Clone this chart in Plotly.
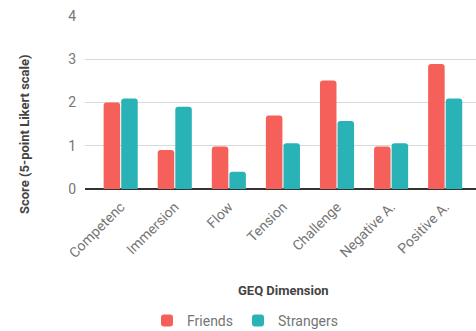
import plotly.graph_objects as go

categories = ["Competenc", "Immersion", "Flow", "Tension", "Challenge", "Negative A.", "Positive A."]
friends = [2.0, 0.9, 0.98, 1.7, 2.51, 0.98, 2.89]
strangers = [2.09, 1.9, 0.4, 1.06, 1.57, 1.06, 2.09]
y_ticks = [0, 1, 2, 3, 4]

RED = "#F5605A"
TEAL = "#2AB3B7"
FONT = "Roboto"

W, H = 476, 331
L, R, T, B = 85, 0, 16, 142
pw, ph = W - L - R, H - T - B

def px_x(x):
    return (x - L) / pw

def px_y(y):
    return (H - B - y) / ph

fig = go.Figure()
fig.add_trace(go.Bar(x=categories, y=friends, name="Friends",
                     marker=dict(color=RED, cornerradius=3, line=dict(width=0))))
fig.add_trace(go.Bar(x=categories, y=strangers, name="Strangers",
                     marker=dict(color=TEAL, cornerradius=3, line=dict(width=0))))

fig.update_layout(
    width=W, height=H,
    margin=dict(l=L, r=R, t=T, b=B, pad=0, autoexpand=False),
    paper_bgcolor="white", plot_bgcolor="white",
    font=dict(family=FONT, size=14, color="#757575"),
    barmode="group", bargap=0.35, bargroupgap=0.06,
    showlegend=True,
    legend=dict(orientation="h", x=px_x(245), xanchor="center",
                y=px_y(321), yanchor="middle",
                font=dict(family=FONT, size=14, color="#757575"),
                itemwidth=30, traceorder="normal"),
    xaxis=dict(range=[-0.66, 6.57], tickangle=-45, showgrid=False,
               showline=False, zeroline=False, ticks="",
               ticklabelstandoff=6,
               tickfont=dict(family=FONT, size=14, color="#757575")),
    yaxis=dict(range=[0, 4], tickvals=y_ticks, showgrid=True,
               gridcolor="#D9D9D9", gridwidth=1, zeroline=True,
               zerolinecolor="#333333", zerolinewidth=1.5,
               showline=False, ticks="", ticklabelstandoff=8,
               tickfont=dict(family=FONT, size=14, color="#757575")),
    annotations=[
        dict(text="<b>Score (5-point Likert scale)</b>", textangle=-90,
             xref="paper", yref="paper", x=px_x(24), y=px_y(134),
             xanchor="center", yanchor="middle", showarrow=False,
             font=dict(family=FONT, size=13, color="#444444")),
        dict(text="<b>GEQ Dimension</b>",
             xref="paper", yref="paper", x=px_x(283), y=px_y(290),
             xanchor="center", yanchor="middle", showarrow=False,
             font=dict(family=FONT, size=13, color="#444444")),
    ],
)

fig.write_html("out.html")
